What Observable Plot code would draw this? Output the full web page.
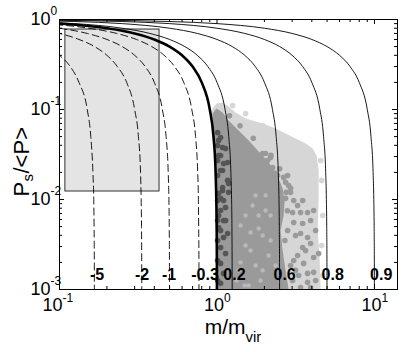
<!DOCTYPE html>
<html><head><meta charset="utf-8">
<script src="https://cdn.jsdelivr.net/npm/d3@7"></script>
<script src="https://cdn.jsdelivr.net/npm/@observablehq/plot@0.6"></script>
<style>body{margin:0;background:#fff;} #chart svg{font-family:"Liberation Sans",Arial,sans-serif;}</style>
</head><body><div id="chart"></div>
<script>
// Shared P_s/<P> levels at which each curve's m/m_vir was read
const psLevels = [0.995,0.99,0.97,0.95,0.9,0.8,0.7,0.6,0.5,0.4,0.3,0.2,0.1,0.05,0.02,0.01,0.005,0.002,0.001];
// m/m_vir read for each curve at those levels
const mCurveMinus5  = [0.00083,0.0017,0.005,0.0083,0.0167,0.033,0.05,0.067,0.083,0.1,0.117,0.133,0.15,0.158,0.163,0.165,0.1658,0.1664,0.1665];
const mCurveMinus2  = [0.0017,0.0033,0.01,0.0167,0.033,0.067,0.1,0.133,0.167,0.2,0.233,0.267,0.3,0.317,0.327,0.33,0.3317,0.3327,0.333];
const mCurveMinus1  = [0.0025,0.005,0.015,0.025,0.05,0.1,0.15,0.2,0.25,0.3,0.35,0.4,0.45,0.475,0.49,0.495,0.4975,0.499,0.4995];
const mCurveMinus03 = [0.0038,0.0077,0.023,0.038,0.077,0.154,0.231,0.308,0.385,0.462,0.538,0.615,0.692,0.731,0.754,0.762,0.765,0.768,0.7685];
const mCurveZero    = [0.005,0.01,0.03,0.05,0.1,0.2,0.3,0.4,0.5,0.6,0.7,0.8,0.9,0.95,0.98,0.99,0.995,0.998,0.999];
const mCurve02      = [0.00625,0.0125,0.0375,0.0625,0.125,0.25,0.375,0.5,0.625,0.75,0.875,1.0,1.125,1.1875,1.225,1.2375,1.244,1.2475,1.249];
const mCurve06      = [0.0125,0.025,0.075,0.125,0.25,0.5,0.75,1.0,1.25,1.5,1.75,2.0,2.25,2.375,2.45,2.475,2.4875,2.495,2.4975];
const mCurve08      = [0.025,0.05,0.15,0.25,0.5,1,1.5,2,2.5,3,3.5,4,4.5,4.75,4.9,4.95,4.975,4.99,4.995];
const mCurve09      = [0.05,0.1,0.3,0.5,1,2,3,4,5,6,7,8,9,9.5,9.8,9.9,9.95,9.98,9.99];

const dashedCurves = [mCurveMinus5, mCurveMinus2, mCurveMinus1, mCurveMinus03];
const thinCurves = [mCurve02, mCurve06, mCurve08, mCurve09];

const curveLabelText = ["-5","-2","-1","-0.3","0.2","0.6","0.8","0.9"];
const curveLabelM    = [0.173,0.334,0.496,0.84,1.29,2.689,5.43,11.03];
const curveLabelPs   = 0.00147;

// grey box
const boxM = [0.109, 0.4317];
const boxPs = [0.01227, 0.774];

// sample clouds [m/m_vir, P_s/<P>]
const lightCloud = [[0.994,0.001],[0.98,0.0163],[0.966,0.035],[0.938,0.0664],[0.924,0.0927],[0.938,0.1026],[0.994,0.1166],[1.085,0.1197],[1.185,0.108],[1.312,0.0927],[1.519,0.0794],[1.758,0.0736],[2.035,0.0681],[2.355,0.0615],[2.726,0.0541],[3.155,0.0476],[3.652,0.0419],[4.05,0.0369],[4.29,0.0308],[4.42,0.021],[4.42,0.00975],[4.36,0.00453],[4.49,0.0021],[4.55,0.001]];
const mediumCloud = [[0.994,0.001],[0.98,0.0163],[0.966,0.035],[0.938,0.0664],[0.938,0.0903],[0.994,0.1026],[1.085,0.0927],[1.185,0.0755],[1.312,0.0631],[1.476,0.0514],[1.634,0.043],[1.811,0.035],[1.978,0.03],[2.129,0.0258],[2.322,0.021],[2.462,0.0171],[2.61,0.0133],[2.688,0.00975],[2.649,0.00664],[2.534,0.00453],[2.61,0.00271],[2.726,0.00163],[2.85,0.001]];
const lightDots = [[1.949,0.0664],[2.255,0.0555],[2.85,0.0453],[3.3,0.0419],[3.76,0.035],[1.519,0.0903],[1.256,0.1108],[4.55,0.0271],[4.62,0.0163],[4.69,0.00664],[4.62,0.00308],[4.69,0.00143]];
const lightGapDots = [[1.519,0.00664],[1.838,0.00476],[2.035,0.00755],[1.634,0.00271],[2.189,0.0035],[1.412,0.002],[1.949,0.00163],[1.758,0.0111],[1.332,0.00126],[1.588,0.00111],
  [1.412,0.00514],[1.683,0.00858],[1.949,0.00398],[2.189,0.00664],[1.519,0.00308],[1.758,0.00185],[2.129,0.00239],[1.372,0.00163],[1.891,0.00126],[1.634,0.0043],[2.355,0.00185],[1.497,0.00111],[2.035,0.0111],[1.838,0.00664]];
const mediumDots = [[1.275,0.0585],[1.949,0.0324],[2.097,0.0271],[2.255,0.0227],[2.426,0.0185],[2.129,0.021],[2.808,0.0185],[2.726,0.0155],[2.933,0.0133],[2.035,0.0324],[2.189,0.0293],[2.355,0.0195],[2.649,0.0176],[2.85,0.0143],[2.933,0.012],[2.726,0.0103],[3.07,0.00975],[3.5,0.00975],[3.02,0.00718],[3.394,0.00718],[3.76,0.00718],[4.11,0.00755],[3.07,0.00555],[3.5,0.00541],[3.93,0.00585],[4.23,0.00453],[3.394,0.00419],[3.76,0.00378],[2.808,0.00453],[3.155,0.00398],[3.07,0.0021],[3.02,0.00126],[3.155,0.00163],[3.55,0.00195],[3.76,0.00151],[4.11,0.00155],[3.93,0.00324],[3.5,0.00293],[4.11,0.00227],[4.42,0.00251],[3.394,0.00105],[3.93,0.00105],[3.76,0.0012],[4.23,0.00126],[3.25,0.00858],[3.652,0.00271],[3.25,0.00239],[2.933,0.00185],[3.3,0.00143],
  [1.2,0.085],[1.4,0.066],[1.7,0.048],[2.2,0.031],[2.5,0.022],[2.75,0.012],[2.8,0.0075],[2.7,0.0035]];
const darkDots = [[1.024,0.0453],[1.085,0.0378],[1.024,0.0308],[1.101,0.0251],[1.054,0.021],[1.168,0.0163],[1.085,0.0136],[1.185,0.012],[1.054,0.0103],[1.134,0.00815],[1.024,0.00664],[1.101,0.00585],[1.054,0.00453],[1.168,0.00419],[1.009,0.0555],[1.054,0.0489],[1.134,0.0369],[1.054,0.0308],[1.168,0.0258],[1.085,0.021],[1.185,0.0151],[1.085,0.0126],[1.024,0.0117],[1.101,0.00975],[1.054,0.00755],[1.134,0.00585],[1.024,0.00489],[1.101,0.00378],[1.054,0.00293],[1.134,0.00251],[1.054,0.00195],[1.101,0.00151],[1.054,0.00117],[1.009,0.0398],[1.009,0.0271],[1.009,0.0185],[1.009,0.00975],[1.009,0.00585],[1.009,0.0035],[1.009,0.0021],[1.009,0.00126]];

// ticks
const xMajor = [0.1, 1, 10];
const xTickExp = ["-1", "0", "1"];
const xMinor = [0.2,0.3,0.4,0.5,0.6,0.7,0.8,0.9,2,3,4,5,6,7,8,9];
const yMajor = [0.001, 0.01, 0.1, 1];
const yTickExp = ["-3", "-2", "-1", "0"];
const yMinor = [0.002,0.003,0.004,0.005,0.006,0.007,0.008,0.009,0.02,0.03,0.04,0.05,0.06,0.07,0.08,0.09,0.2,0.3,0.4,0.5,0.6,0.7,0.8,0.9];

const W = 407, H = 352, mL = 59, mR = 10, mT = 19, mB = 63;
const pw = W - mL - mR, ph = H - mT - mB;

const toRows = (arr) => arr.map((m, i) => ({m, ps: psLevels[i]}));
const px = d => d[0], py = d => d[1];

const marks = [
  Plot.line(lightCloud, {x: px, y: py, fill: "#d6d6d6", stroke: "none"}),
  Plot.dot(lightDots, {x: px, y: py, r: 2.8, fill: "#d6d6d6", clip: true}),
  Plot.line(mediumCloud, {x: px, y: py, fill: "#9a9a9a", stroke: "none"}),
  Plot.dot(lightGapDots, {x: px, y: py, r: 2.2, fill: "#b9b9b9", clip: true}),
  Plot.dot(mediumDots, {x: px, y: py, r: 2.8, fill: "#9a9a9a", clip: true}),
  Plot.dot(darkDots, {x: px, y: py, r: 2.8, fill: "#555555", clip: true}),
  Plot.rect([0], {x1: () => boxM[0], x2: () => boxM[1], y1: () => boxPs[0], y2: () => boxPs[1], fill: "#e4e4e4", stroke: "#000", strokeWidth: 0.8}),
];
for (const c of dashedCurves) marks.push(Plot.line(toRows(c), {x: "m", y: "ps", stroke: "#000", strokeWidth: 0.9, strokeDasharray: "7,4", curve: "monotone-x", clip: true}));
for (const c of thinCurves) marks.push(Plot.line(toRows(c), {x: "m", y: "ps", stroke: "#000", strokeWidth: 0.9, curve: "monotone-x", clip: true}));
marks.push(Plot.line(toRows(mCurveZero), {x: "m", y: "ps", stroke: "#000", strokeWidth: 2.6, curve: "monotone-x", clip: true}));
marks.push(
  Plot.text(curveLabelText, {x: (d, i) => curveLabelM[i], y: () => curveLabelPs, text: d => d, fontWeight: "bold", fontSize: 16, fill: "#000"}),
  Plot.frame({stroke: "#000", strokeWidth: 1}),
  // inward ticks on all four sides
  Plot.tickX(xMajor, {x: d => d, insetTop: ph - 5, stroke: "#000"}),
  Plot.tickX(xMajor, {x: d => d, insetBottom: ph - 5, stroke: "#000"}),
  Plot.tickX(xMinor, {x: d => d, insetTop: ph - 3, stroke: "#000"}),
  Plot.tickX(xMinor, {x: d => d, insetBottom: ph - 3, stroke: "#000"}),
  Plot.tickY(yMajor, {y: d => d, insetRight: pw - 5, stroke: "#000"}),
  Plot.tickY(yMajor, {y: d => d, insetLeft: pw - 5, stroke: "#000"}),
  Plot.tickY(yMinor, {y: d => d, insetRight: pw - 3, stroke: "#000"}),
  Plot.tickY(yMinor, {y: d => d, insetLeft: pw - 3, stroke: "#000"}),
  // y tick labels 10^k
  Plot.text(yMajor, {y: d => d, frameAnchor: "left", text: () => "10", textAnchor: "end", dx: -9, dy: 0, fontSize: 18, fill: "#000"}),
  Plot.text(yMajor, {y: d => d, frameAnchor: "left", text: (d, i) => yTickExp[i], textAnchor: "start", dx: -9, dy: -8, fontSize: 12, fill: "#000"}),
  // x tick labels 10^k
  Plot.text(xMajor.slice(0, 1), {x: d => d, frameAnchor: "bottom", text: () => "10", textAnchor: "end", dx: 3, dy: 21, fontSize: 18, fill: "#000"}),
  Plot.text(xMajor.slice(0, 1), {x: d => d, frameAnchor: "bottom", text: () => xTickExp[0], textAnchor: "start", dx: 3, dy: 12, fontSize: 12, fill: "#000"}),
  Plot.text(xMajor.slice(1), {x: d => d, frameAnchor: "bottom", text: () => "10", textAnchor: "end", dx: 7, dy: 21, fontSize: 18, fill: "#000"}),
  Plot.text(xMajor.slice(1), {x: d => d, frameAnchor: "bottom", text: (d, i) => xTickExp[i + 1], textAnchor: "start", dx: 7, dy: 12, fontSize: 12, fill: "#000"}),
  // axis titles
  Plot.text(["m/m"], {frameAnchor: "bottom", text: d => d, textAnchor: "end", dx: 17, dy: 44, fontSize: 21, fill: "#000"}),
  Plot.text(["vir"], {frameAnchor: "bottom", text: d => d, textAnchor: "start", dx: 17, dy: 52, fontSize: 15, fill: "#000"}),
  Plot.text(["P"], {frameAnchor: "left", text: d => d, rotate: -90, textAnchor: "start", dx: -38, dy: 42, fontSize: 22, fill: "#000"}),
  Plot.text(["s"], {frameAnchor: "left", text: d => d, rotate: -90, textAnchor: "start", dx: -31, dy: 27, fontSize: 15, fill: "#000"}),
  Plot.text(["/<P>"], {frameAnchor: "left", text: d => d, rotate: -90, textAnchor: "start", dx: -38, dy: 19, fontSize: 22, fill: "#000"})
);

const chart = Plot.plot({
  width: W, height: H,
  marginLeft: mL, marginRight: mR, marginTop: mT, marginBottom: mB,
  x: {type: "log", domain: [0.1, 14], axis: null},
  y: {type: "log", domain: [0.001, 1], axis: null},
  style: {background: "#fff", fontFamily: "'Liberation Sans', Arial, sans-serif"},
  marks
});
document.getElementById("chart").appendChild(chart);
</script>
</body></html>
